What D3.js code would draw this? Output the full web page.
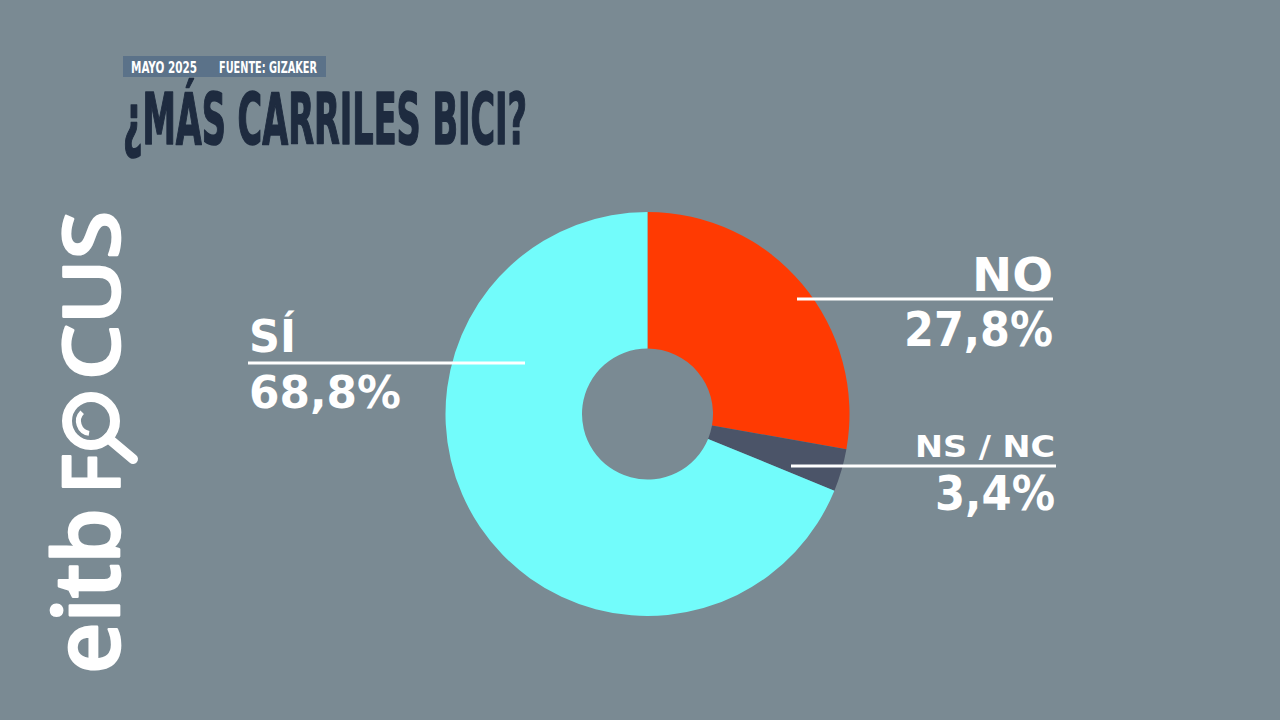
<!DOCTYPE html>
<html>
<head>
<meta charset="utf-8">
<script src="https://cdn.jsdelivr.net/npm/d3@7"></script>
<style>
  html, body { margin: 0; padding: 0; background: #7a8a93; }
  svg { display: block; }
</style>
</head>
<body>
<svg id="chart" width="1280" height="720"></svg>
<script>
// ---- data ----
const categories = ["NO", "NS / NC", "SÍ"];
const values = [27.8, 3.4, 68.8];
const valueLabels = ["27,8%", "3,4%", "68,8%"];
const colors = ["#ff3a02", "#4b5468", "#72fcfb"];
const tagLabels = ["MAYO 2025", "FUENTE: GIZAKER"];
const titleText = "¿MÁS CARRILES BICI?";

// ---- layout ----
const W = 1280, H = 720;
const svg = d3.select("#chart");
svg.append("rect").attr("width", W).attr("height", H).attr("fill", "#7a8a93");

const cx = 647.5, cy = 414, rOuter = 202, rInner = 65.5;

// header tag
const tag = svg.append("g");
tag.append("rect").attr("x", 123).attr("y", 56).attr("width", 203).attr("height", 21).attr("fill", "#5b7289");
const tagPos = [{x: 131, w: 66}, {x: 219, w: 98}];
tag.selectAll("text").data(tagLabels).join("text")
  .attr("x", (d, i) => tagPos[i].x).attr("y", 73)
  .attr("textLength", (d, i) => tagPos[i].w).attr("lengthAdjust", "spacingAndGlyphs")
  .attr("fill", "#ffffff")
  .style("font-family", "'Liberation Sans Narrow', 'DejaVu Sans Condensed', sans-serif")
  .style("font-weight", "700").style("font-size", "15px")
  .text(d => d);

// title
svg.append("text")
  .attr("x", 123).attr("y", 144)
  .attr("textLength", 404).attr("lengthAdjust", "spacingAndGlyphs")
  .attr("fill", "#1e2b3f").attr("stroke", "#1e2b3f").attr("stroke-width", 1.6)
  .attr("stroke-linejoin", "round")
  .style("font-family", "'Liberation Sans Narrow', 'DejaVu Sans Condensed', sans-serif")
  .style("font-weight", "700").style("font-size", "71px")
  .text(titleText);

// donut
const pie = d3.pie().sort(null).startAngle(0).endAngle(2 * Math.PI).value(d => d);
const arc = d3.arc().innerRadius(rInner).outerRadius(rOuter);
const arcs = pie(values);
svg.append("g").attr("transform", `translate(${cx},${cy})`)
  .selectAll("path").data(arcs).join("path")
  .attr("d", arc)
  .attr("fill", (d, i) => colors[i]);

// labels
const labelLayout = [
  // NO
  {anchor: "end", x: 1053, catY: 291, catSize: 47, catW: 81, valY: 346, valSize: 48, valW: 149, lineX1: 797, lineX2: 1053, lineY: 299},
  // NS / NC
  {anchor: "end", x: 1055, catY: 457, catSize: 30, catW: 140, valY: 510, valSize: 48, valW: 120, lineX1: 791, lineX2: 1056, lineY: 466},
  // SÍ
  {anchor: "start", x: 249, catY: 352, catSize: 44, catW: 47, valY: 408, valSize: 45, valW: 152, lineX1: 248, lineX2: 525, lineY: 363}
];
const lab = svg.append("g").selectAll("g").data(categories).join("g");
lab.append("line")
  .attr("x1", (d, i) => labelLayout[i].lineX1).attr("x2", (d, i) => labelLayout[i].lineX2)
  .attr("y1", (d, i) => labelLayout[i].lineY).attr("y2", (d, i) => labelLayout[i].lineY)
  .attr("stroke", "#ffffff").attr("stroke-width", 3);
const fontLab = "'DejaVu Sans', 'Noto Sans', sans-serif";
lab.append("text")
  .attr("x", (d, i) => labelLayout[i].x).attr("y", (d, i) => labelLayout[i].catY)
  .attr("text-anchor", (d, i) => labelLayout[i].anchor)
  .attr("textLength", (d, i) => labelLayout[i].catW).attr("lengthAdjust", "spacingAndGlyphs")
  .style("font-family", fontLab).style("font-weight", "700")
  .style("font-size", (d, i) => labelLayout[i].catSize + "px")
  .attr("fill", "#ffffff")
  .text(d => d);
lab.append("text")
  .attr("x", (d, i) => labelLayout[i].x).attr("y", (d, i) => labelLayout[i].valY)
  .attr("text-anchor", (d, i) => labelLayout[i].anchor)
  .attr("textLength", (d, i) => labelLayout[i].valW).attr("lengthAdjust", "spacingAndGlyphs")
  .style("font-family", fontLab).style("font-weight", "700")
  .style("font-size", (d, i) => labelLayout[i].valSize + "px")
  .attr("fill", "#ffffff")
  .text((d, i) => valueLabels[i]);

// logo (vertical eitbFOCUS)
const logo = svg.append("g").attr("fill", "#ffffff").attr("stroke", "#ffffff").attr("stroke-width", 2.6).attr("stroke-linejoin", "round");
const logoFont = "'Noto Sans', 'DejaVu Sans', sans-serif";
logo.append("text")
  .attr("transform", "translate(119,674) rotate(-90)")
  .attr("textLength", 166).attr("lengthAdjust", "spacingAndGlyphs")
  .style("font-family", logoFont).style("font-weight", "500").style("font-size", "90px")
  .text("eitb");
logo.append("text")
  .attr("transform", "translate(119,494) rotate(-90)")
  .attr("textLength", 40).attr("lengthAdjust", "spacingAndGlyphs")
  .style("font-family", logoFont).style("font-weight", "500").style("font-size", "78px")
  .text("F");
logo.append("text")
  .attr("transform", "translate(119,380) rotate(-90)")
  .attr("textLength", 169).attr("lengthAdjust", "spacingAndGlyphs")
  .style("font-family", logoFont).style("font-weight", "500").style("font-size", "78px")
  .text("CUS");
// magnifier "O"
const mag = svg.append("g").attr("fill", "none").attr("stroke", "#ffffff").attr("stroke-linecap", "round");
mag.append("circle").attr("cx", 91).attr("cy", 421).attr("r", 24).attr("stroke-width", 10);
mag.append("line").attr("x1", 108).attr("y1", 438).attr("x2", 133).attr("y2", 459).attr("stroke-width", 10);
mag.append("path")
  .attr("d", d3.arc()({innerRadius: 12.5, outerRadius: 12.5, startAngle: Math.PI * 1.05, endAngle: Math.PI * 1.75}))
  .attr("transform", "translate(91,421)")
  .attr("stroke-width", 5);
</script>
</body>
</html>
